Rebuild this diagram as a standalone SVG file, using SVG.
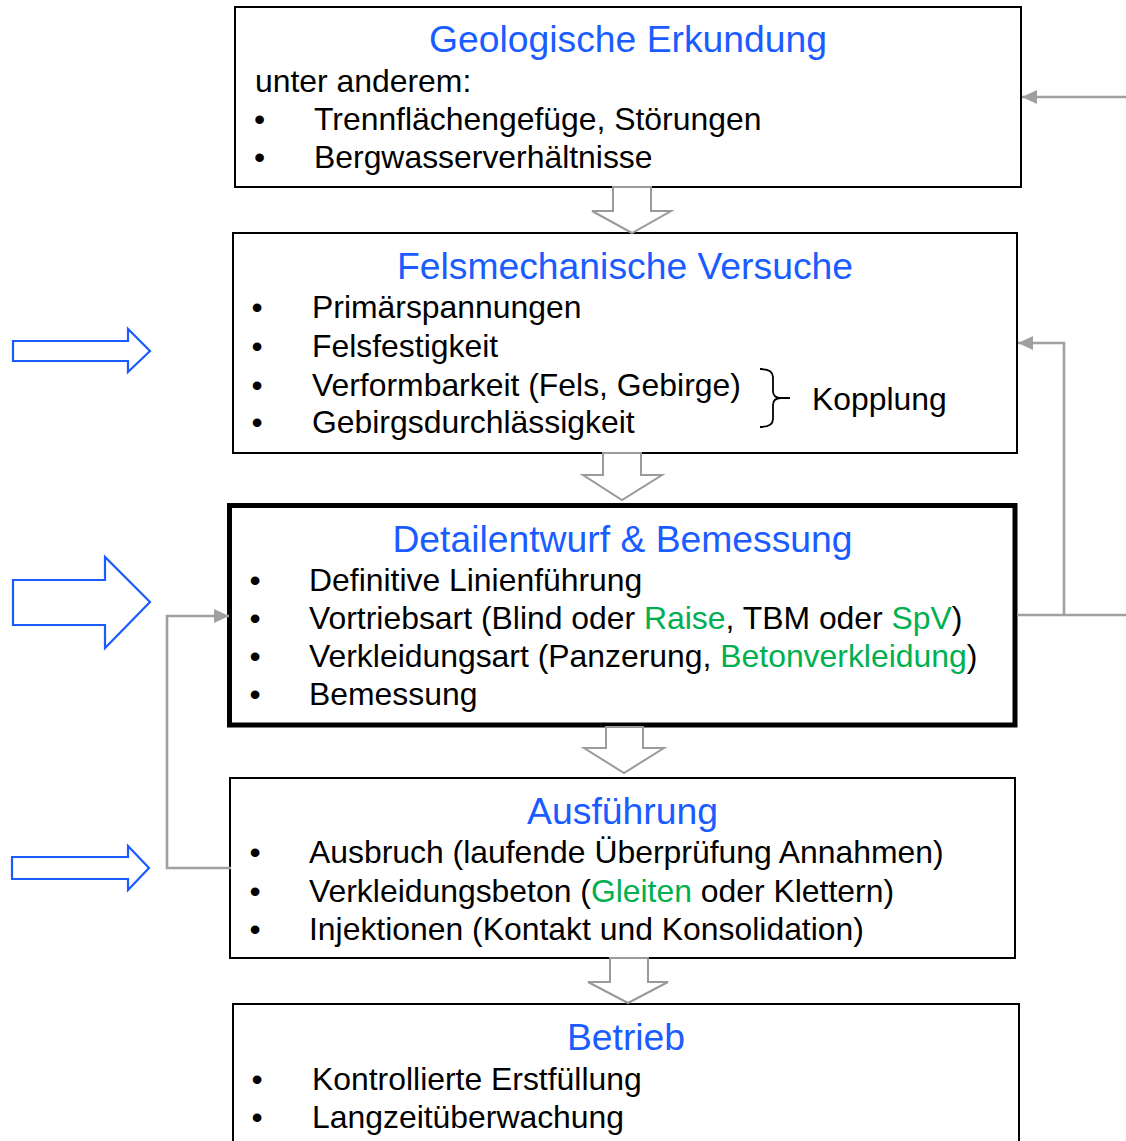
<svg xmlns="http://www.w3.org/2000/svg" width="1126" height="1141" viewBox="0 0 1126 1141">
<style>
text{font-family:"Liberation Sans",Arial,sans-serif;fill:#000}
.t{font-size:37.3px;fill:#1A5CFF;text-anchor:middle}
.b{font-size:31.9px}
.g{fill:#00B050}
.box{fill:#fff;stroke:#000;stroke-width:2}
.thick{fill:#fff;stroke:#000;stroke-width:5}
.down{fill:#fff;stroke:#9A9A9A;stroke-width:2;stroke-linejoin:miter}
.blue{fill:#fff;stroke:#1A5CFF;stroke-width:2.2}
.con{fill:none;stroke:#A0A0A0;stroke-width:2.6}
</style>
<defs>
<marker id="ah" markerUnits="userSpaceOnUse" markerWidth="16" markerHeight="16" refX="15" refY="7" orient="auto">
<path d="M0,0 L15,7 L0,14 Z" fill="#A0A0A0"/>
</marker>
</defs>

<g id="node-geologie">
<rect class="box" x="235" y="7" width="786" height="180"/>
<text class="t" x="628" y="52">Geologische Erkundung</text>
<text class="b" x="255" y="92">unter anderem:</text>
<text class="b" x="254" y="130">•</text>
<text class="b" x="314" y="130">Trennflächengefüge, Störungen</text>
<text class="b" x="254" y="168">•</text>
<text class="b" x="314" y="168">Bergwasserverhältnisse</text>
</g>

<g id="node-felsmechanik">
<rect class="box" x="233" y="233" width="784" height="220"/>
<text class="t" x="625" y="279">Felsmechanische Versuche</text>
<text class="b" x="251.5" y="318">•</text>
<text class="b" x="312" y="318">Primärspannungen</text>
<text class="b" x="251.5" y="357">•</text>
<text class="b" x="312" y="357">Felsfestigkeit</text>
<text class="b" x="251.5" y="396">•</text>
<text class="b" x="312" y="396">Verformbarkeit (Fels, Gebirge)</text>
<text class="b" x="251.5" y="433">•</text>
<text class="b" x="312" y="433">Gebirgsdurchlässigkeit</text>
<path d="M760,369 Q773,369 773,377 V391 Q773,398 781,398 H790 M781,398 Q773,398 773,405 V419 Q773,427 760,427" fill="none" stroke="#000" stroke-width="1.8"/>
<text class="b" x="812" y="410">Kopplung</text>
</g>

<g id="node-detailentwurf">
<rect class="thick" x="229.5" y="505.5" width="785.5" height="219.5"/>
<text class="t" x="622.5" y="552">Detailentwurf &amp; Bemessung</text>
<text class="b" x="249.5" y="591">•</text>
<text class="b" x="309" y="591">Definitive Linienführung</text>
<text class="b" x="249.5" y="629">•</text>
<text class="b" x="309" y="629">Vortriebsart (Blind oder <tspan class="g">Raise</tspan>, TBM oder <tspan class="g">SpV</tspan>)</text>
<text class="b" x="249.5" y="667">•</text>
<text class="b" x="309" y="667">Verkleidungsart (Panzerung, <tspan class="g">Betonverkleidung</tspan>)</text>
<text class="b" x="249.5" y="705">•</text>
<text class="b" x="309" y="705">Bemessung</text>
</g>

<g id="node-ausfuehrung">
<rect class="box" x="230" y="778" width="785" height="180"/>
<text class="t" x="622.5" y="824">Ausführung</text>
<text class="b" x="249.5" y="863">•</text>
<text class="b" x="309" y="863">Ausbruch (laufende Überprüfung Annahmen)</text>
<text class="b" x="249.5" y="902">•</text>
<text class="b" x="309" y="902">Verkleidungsbeton (<tspan class="g">Gleiten</tspan> oder Klettern)</text>
<text class="b" x="249.5" y="940">•</text>
<text class="b" x="309" y="940">Injektionen (Kontakt und Konsolidation)</text>
</g>

<g id="node-betrieb">
<rect class="box" x="233" y="1004" width="786" height="150"/>
<text class="t" x="626" y="1050">Betrieb</text>
<text class="b" x="251.5" y="1090">•</text>
<text class="b" x="312" y="1090">Kontrollierte Erstfüllung</text>
<text class="b" x="251.5" y="1128">•</text>
<text class="b" x="312" y="1128">Langzeitüberwachung</text>
</g>

<g id="connectors">
<polygon class="down" points="613,187 651,187 651,211 671,211 632,233 592,211 613,211"/>
<polygon class="down" points="603,453 641,453 641,475 662,475 622,500 583,475 603,475"/>
<polygon class="down" points="606,727 643,727 643,748 664,748 624,773 584,748 606,748"/>
<polygon class="down" points="610,958 648,958 648,982 668,982 628,1003 588,982 610,982"/>

<path class="blue" d="M13,341 H128 V329 L150,351 L128,372 V361 H13 Z"/>
<path class="blue" d="M13,580 H105 V557 L150,602 L105,648 V625 H13 Z"/>
<path class="blue" d="M12,857 H128 V846 L149,868 L128,890 V879 H12 Z"/>

<path class="con" d="M1126,97 H1022" marker-end="url(#ah)"/>
<path class="con" d="M1017,615 H1126"/>
<path class="con" d="M1064,615 V343 H1018" marker-end="url(#ah)"/>
<path class="con" d="M231,868 H167 V616 H229" marker-end="url(#ah)"/>
</g>
</svg>
